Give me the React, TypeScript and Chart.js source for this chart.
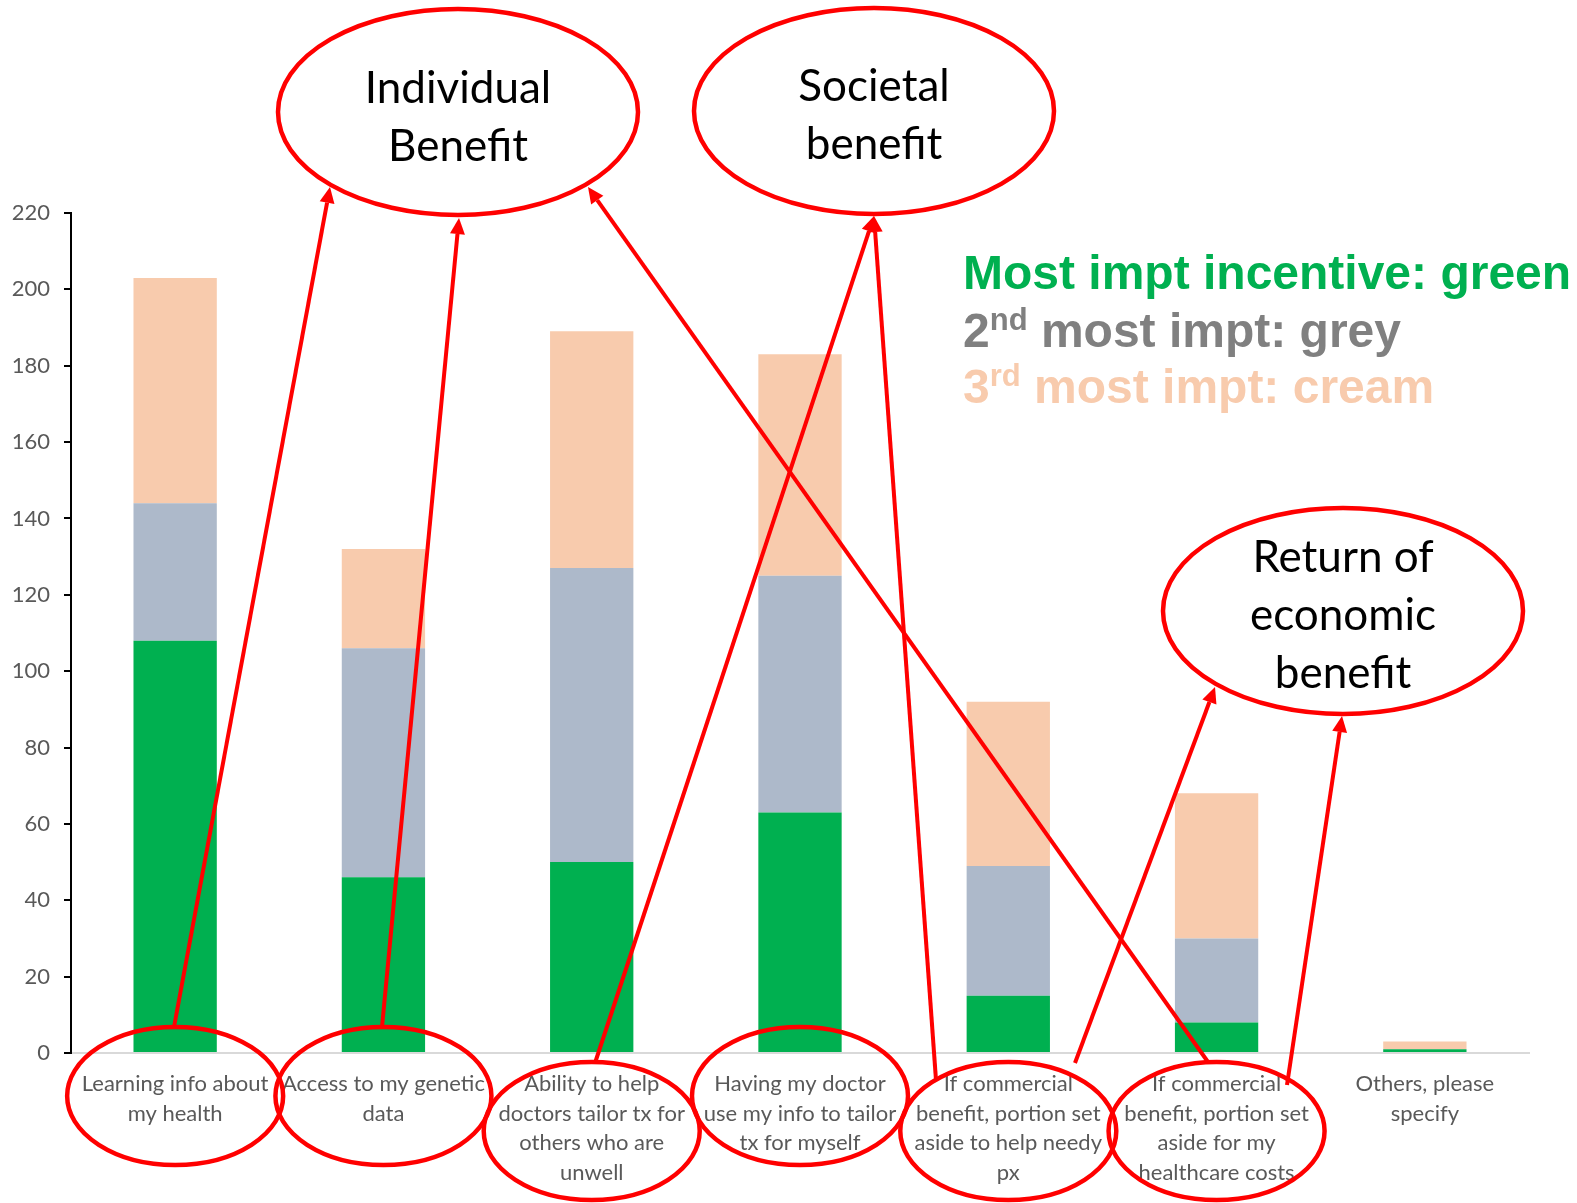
import React, { useEffect, useRef } from "react";
import { Chart, registerables } from "chart.js";

Chart.register(...registerables);

// Survey: which incentives matter most for sharing genetic data
const categories: string[][] = [
  ["Learning info about", "my health"],
  ["Access to my genetic", "data"],
  ["Ability to help", "doctors tailor tx for", "others who are", "unwell"],
  ["Having my doctor", "use my info to tailor", "tx for myself"],
  ["If commercial", "benefit, portion set", "aside to help needy", "px"],
  ["If commercial", "benefit, portion set", "aside for my", "healthcare costs"],
  ["Others, please", "specify"],
];

const mostImportant = [108, 46, 50, 63, 15, 8, 1];
const secondMost = [36, 60, 77, 62, 34, 22, 0];
const thirdMost = [59, 26, 62, 58, 43, 38, 2];

const Y_MAX = 220;
const Y_STEP = 20;

const GREEN = "#00B050";
const GREY = "#ADB9CA";
const CREAM = "#F8CBAD";
const RED = "#FF0000";

// Rings drawn around category labels (index, vertical offset from the x axis)
const labelRings = [
  { index: 0, dy: 43 },
  { index: 1, dy: 43 },
  { index: 2, dy: 78 },
  { index: 3, dy: 43 },
  { index: 4, dy: 78 },
  { index: 5, dy: 78 },
];

// Theme bubbles
const themeBubbles = [
  { cx: 458, cy: 112, lines: ["Individual", "Benefit"], baseline: 103 },
  { cx: 874, cy: 111, lines: ["Societal", "benefit"], baseline: 101 },
  { cx: 1343, cy: 611, lines: ["Return of", "economic", "benefit"], baseline: 572 },
];

// Arrows from label rings to theme bubbles: [fromX, fromY, toX, toY]
const arrows: [number, number, number, number][] = [
  [174, 1027, 330, 187],
  [382, 1027, 459, 218],
  [595, 1063, 874, 216],
  [936, 1080, 874, 216],
  [1208, 1062, 588, 187],
  [1075, 1063, 1215, 687],
  [1287, 1085, 1342, 716],
];

function strokeEllipse(ctx: CanvasRenderingContext2D, cx: number, cy: number, rx: number, ry: number) {
  ctx.beginPath();
  ctx.ellipse(cx, cy, rx, ry, 0, 0, Math.PI * 2);
  ctx.stroke();
}

function drawArrow(ctx: CanvasRenderingContext2D, x1: number, y1: number, x2: number, y2: number) {
  const len = 16;
  const half = 7.5;
  const ang = Math.atan2(y2 - y1, x2 - x1);
  const bx = x2 - len * Math.cos(ang);
  const by = y2 - len * Math.sin(ang);
  ctx.beginPath();
  ctx.moveTo(x1, y1);
  ctx.lineTo(bx, by);
  ctx.stroke();
  ctx.beginPath();
  ctx.moveTo(x2, y2);
  ctx.lineTo(bx + half * Math.sin(ang), by - half * Math.cos(ang));
  ctx.lineTo(bx - half * Math.sin(ang), by + half * Math.cos(ang));
  ctx.closePath();
  ctx.fill();
}

function drawKeyLine(
  ctx: CanvasRenderingContext2D,
  x: number,
  y: number,
  color: string,
  lead: string,
  sup: string,
  rest: string
) {
  ctx.fillStyle = color;
  ctx.textAlign = "left";
  ctx.textBaseline = "alphabetic";
  ctx.font = "bold 48px 'Liberation Sans', Arial, sans-serif";
  ctx.fillText(lead, x, y);
  let cx = x + ctx.measureText(lead).width;
  if (sup) {
    ctx.font = "bold 31px 'Liberation Sans', Arial, sans-serif";
    ctx.fillText(sup, cx, y - 17);
    cx += ctx.measureText(sup).width;
    ctx.font = "bold 48px 'Liberation Sans', Arial, sans-serif";
  }
  ctx.fillText(rest, cx, y);
}

const calloutPlugin = {
  id: "callouts",
  afterDraw(chart: any) {
    const ctx: CanvasRenderingContext2D = chart.ctx;
    const xScale = chart.scales.x;
    const bottom = chart.chartArea.bottom;
    ctx.save();

    // colour key
    drawKeyLine(ctx, 963, 289, GREEN, "Most impt incentive: green", "", "");
    drawKeyLine(ctx, 963, 347, "#808080", "2", "nd", " most impt: grey");
    drawKeyLine(ctx, 963, 403, CREAM, "3", "rd", " most impt: cream");

    ctx.strokeStyle = RED;
    ctx.fillStyle = RED;
    ctx.lineWidth = 4.5;

    // rings around category labels
    labelRings.forEach((r) => {
      strokeEllipse(ctx, xScale.getPixelForValue(r.index), bottom + r.dy, 108, 69);
    });

    // theme bubbles
    themeBubbles.forEach((b) => {
      ctx.strokeStyle = RED;
      strokeEllipse(ctx, b.cx, b.cy, 180, 103);
      ctx.fillStyle = "#000000";
      ctx.font = "44px Lato, sans-serif";
      ctx.textAlign = "center";
      ctx.textBaseline = "alphabetic";
      b.lines.forEach((t, i) => ctx.fillText(t, b.cx, b.baseline + i * 58));
    });

    // arrows
    ctx.strokeStyle = RED;
    ctx.fillStyle = RED;
    ctx.lineWidth = 4;
    arrows.forEach(([x1, y1, x2, y2]) => drawArrow(ctx, x1, y1, x2, y2));

    ctx.restore();
  },
};

export default function App() {
  const canvasRef = useRef<HTMLCanvasElement | null>(null);

  useEffect(() => {
    if (!canvasRef.current) return;
    const chart = new Chart(canvasRef.current, {
      type: "bar",
      data: {
        labels: categories,
        datasets: [
          { label: "Most important", data: mostImportant, backgroundColor: GREEN },
          { label: "2nd most important", data: secondMost, backgroundColor: GREY },
          { label: "3rd most important", data: thirdMost, backgroundColor: CREAM },
        ],
      },
      options: {
        animation: false,
        responsive: false,
        maintainAspectRatio: false,
        devicePixelRatio: 1,
        layout: { padding: { top: 213, right: 48, left: 0, bottom: 0 } },
        datasets: {
          bar: { barPercentage: 0.4, categoryPercentage: 1.0, borderWidth: 0 },
        },
        plugins: {
          legend: { display: false },
          tooltip: { enabled: false },
          title: { display: false },
        },
        scales: {
          x: {
            stacked: true,
            grid: { display: false, drawTicks: false },
            border: { display: true, color: "#D9D9D9", width: 2 },
            ticks: {
              color: "#595959",
              font: { family: "Lato, sans-serif", size: 22, lineHeight: 1.35 },
              padding: 16,
              maxRotation: 0,
              autoSkip: false,
            },
            afterFit: (scale: any) => {
              scale.height = 150;
            },
          },
          y: {
            stacked: true,
            min: 0,
            max: Y_MAX,
            grid: {
              drawOnChartArea: false,
              drawTicks: true,
              tickLength: 7,
              color: "#000000",
              lineWidth: 2,
            },
            border: { display: true, color: "#000000", width: 2 },
            ticks: {
              stepSize: Y_STEP,
              color: "#595959",
              font: { family: "Lato, sans-serif", size: 22 },
              padding: 14,
            },
            afterFit: (scale: any) => {
              scale.width = 71;
            },
          },
        },
      },
      plugins: [calloutPlugin],
    });
    return () => chart.destroy();
  }, []);

  return (
    <div style={{ position: "absolute", left: 0, top: 0, width: 1577, height: 1203, background: "#ffffff" }}>
      <canvas ref={canvasRef} width={1577} height={1203} />
    </div>
  );
}
